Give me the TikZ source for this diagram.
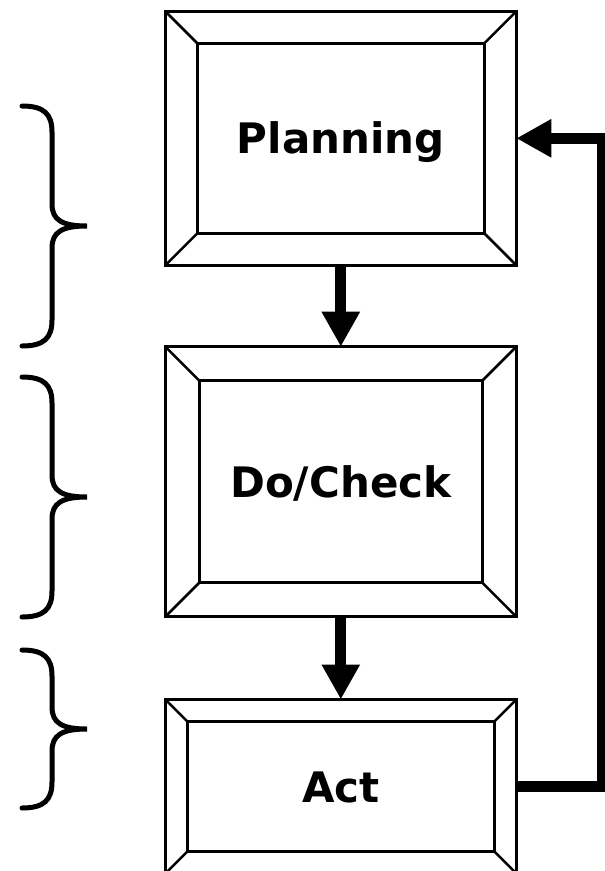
\documentclass[tikz,border=0pt]{standalone}
\usepackage{fontspec}
\setmainfont{DejaVu Sans}
\usetikzlibrary{arrows.meta,calc}

\tikzset{
  bevelbox/.style={
    draw, line width=3pt, inner sep=0pt, outer sep=0pt,
    font=\fontsize{42}{46}\selectfont\bfseries,
    text height=31pt, text depth=-2pt,
    path picture={
      \draw[line width=3pt, line join=miter]
        ([shift={(#1pt,#1pt)}]path picture bounding box.south west)
        rectangle ([shift={(-#1pt,-#1pt)}]path picture bounding box.north east);
      \draw[line width=2.5pt]
        (path picture bounding box.south west) -- ([shift={(#1pt,#1pt)}]path picture bounding box.south west)
        (path picture bounding box.north west) -- ([shift={(#1pt,-#1pt)}]path picture bounding box.north west)
        (path picture bounding box.north east) -- ([shift={(-#1pt,-#1pt)}]path picture bounding box.north east)
        (path picture bounding box.south east) -- ([shift={(-#1pt,#1pt)}]path picture bounding box.south east);
    }
  },
  flowarrow/.style={
    line width=11pt, line join=miter,
    -{Triangle[length=35pt,width=36pt]}
  },
  bracestroke/.style={line width=5pt, line cap=round}
}

% draws a right-pointing curly brace from y=#1 to y=#3 with its tip at y=#2
\newcommand{\sidebrace}[3]{%
  \draw[bracestroke]
    (22,#1) .. controls (44,#1) and (52,#1+8) .. (52,#1+26)
    -- (52,#2-22) .. controls (52,#2-6) and (62,#2) .. (87,#2)
    .. controls (62,#2) and (52,#2+6) .. (52,#2+22)
    -- (52,#3-26) .. controls (52,#3-8) and (44,#3) .. (22,#3);%
}

\begin{document}
\begin{tikzpicture}[x=1pt, y=-1pt]
  \useasboundingbox (0,0) rectangle (605,871);
  \clip (0,0) rectangle (605,871);

  % the three stages
  \node[bevelbox=32, minimum width=351pt, minimum height=254pt] (plan) at (340.8,138.3) {Planning};
  \node[bevelbox=34, minimum width=351pt, minimum height=270pt] (do) at (340.8,481.7) {Do/Check};
  \node[bevelbox=22, minimum width=351pt, minimum height=174pt] (act) at (340.8,786.5) {Act};

  % forward flow
  \draw[flowarrow] (plan.south) -- (do.north);
  \draw[flowarrow] (do.south) -- (act.north);

  % feedback loop from Act back to Planning
  \coordinate (loop) at (602,0);
  \draw[flowarrow] (act.east) -- (act.east -| loop) -- (loop |- plan.east) -- (plan.east);

  % braces on the left
  \sidebrace{106}{226}{346}
  \sidebrace{377}{497}{617}
  \sidebrace{650}{729}{808}
\end{tikzpicture}
\end{document}
